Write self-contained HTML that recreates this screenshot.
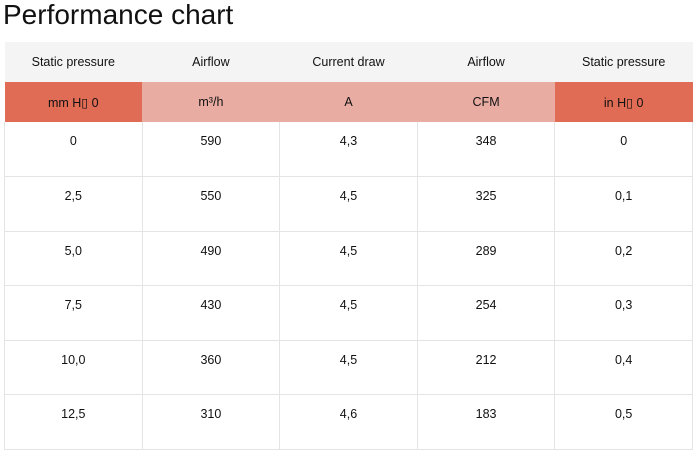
<!DOCTYPE html>
<html><head><meta charset="utf-8"><style>
body{margin:0;width:700px;height:461px;background:#fff;font-family:"Liberation Sans",sans-serif;color:#111;overflow:hidden}
h1{position:absolute;left:3px;top:0;margin:0;font-weight:normal;font-size:28px;line-height:30px}
table{position:absolute;left:4px;top:42px;width:689px;border-collapse:collapse;table-layout:fixed;font-size:12.5px}
td{text-align:center;border-left:1px solid #e4e4e4;border-right:1px solid #e4e4e4;padding:0}
tr.h td{background:#f4f4f4;height:40px;border:none}
tr.u td{background:#e8aca3;height:40px;border:none}
tr.u td.d{background:#e06c55}
tr.r td{height:54.6px;vertical-align:top;padding-top:12px;box-sizing:border-box;border-bottom:1px solid #e4e4e4;line-height:14px}
</style></head><body>
<h1>Performance chart</h1>
<table>
<tr class="h"><td>Static pressure</td><td>Airflow</td><td>Current draw</td><td>Airflow</td><td>Static pressure</td></tr>
<tr class="u"><td class="d">mm H▯ 0</td><td>m³/h</td><td>A</td><td>CFM</td><td class="d">in H▯ 0</td></tr>
<tr class="r"><td>0</td><td>590</td><td>4,3</td><td>348</td><td>0</td></tr>
<tr class="r"><td>2,5</td><td>550</td><td>4,5</td><td>325</td><td>0,1</td></tr>
<tr class="r"><td>5,0</td><td>490</td><td>4,5</td><td>289</td><td>0,2</td></tr>
<tr class="r"><td>7,5</td><td>430</td><td>4,5</td><td>254</td><td>0,3</td></tr>
<tr class="r"><td>10,0</td><td>360</td><td>4,5</td><td>212</td><td>0,4</td></tr>
<tr class="r"><td>12,5</td><td>310</td><td>4,6</td><td>183</td><td>0,5</td></tr>
</table>
</body></html>
